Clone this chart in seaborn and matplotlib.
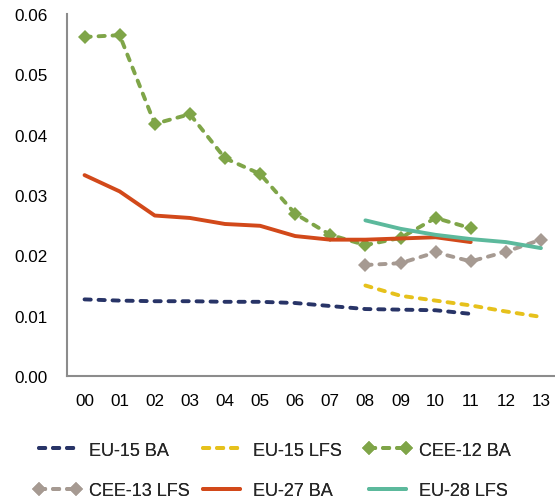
import numpy as np
import pandas as pd
import matplotlib
matplotlib.use("Agg")
import matplotlib.pyplot as plt
import seaborn as sns

# ---------- data ----------
years = ["00", "01", "02", "03", "04", "05", "06", "07", "08", "09", "10", "11", "12", "13"]
nan = np.nan

eu15_ba = [0.0127, 0.0125, 0.0124, 0.0124, 0.0123, 0.0123, 0.0121, 0.0116, 0.0111, 0.0110, 0.0109, 0.0103, nan, nan]
eu15_lfs = [nan, nan, nan, nan, nan, nan, nan, nan, 0.0150, 0.0133, 0.0125, 0.0117, 0.0107, 0.0098]
cee12_ba = [0.0562, 0.0565, 0.0418, 0.0434, 0.0361, 0.0335, 0.0269, 0.0234, 0.0217, 0.0229, 0.0262, 0.0245, nan, nan]
cee13_lfs = [nan, nan, nan, nan, nan, nan, nan, nan, 0.0184, 0.0187, 0.0205, 0.0190, 0.0206, 0.0226]
eu27_ba = [0.0333, 0.0306, 0.0266, 0.0262, 0.0252, 0.0249, 0.0232, 0.0226, 0.0226, 0.0228, 0.0230, 0.0222, nan, nan]
eu28_lfs = [nan, nan, nan, nan, nan, nan, nan, nan, 0.0258, 0.0244, 0.0234, 0.0227, 0.0222, 0.0212]

series = {
    "EU-15 BA": eu15_ba,
    "EU-15 LFS": eu15_lfs,
    "CEE-12 BA": cee12_ba,
    "CEE-13 LFS": cee13_lfs,
    "EU-27 BA": eu27_ba,
    "EU-28 LFS": eu28_lfs,
}

# style per series: colour, dashed?, marker
styles = {
    "EU-15 BA": ("#283467", True, None),
    "EU-15 LFS": ("#e6c11c", True, None),
    "CEE-12 BA": ("#7fa548", True, "D"),
    "CEE-13 LFS": ("#a69a92", True, "D"),
    "EU-27 BA": ("#d2491a", False, None),
    "EU-28 LFS": ("#5cb99c", False, None),
}

# ---------- plot ----------
sns.set_style("white")
plt.rcParams['font.family'] = ['Liberation Sans', 'DejaVu Sans']

fig = plt.figure(figsize=(5.55, 5.02), dpi=100)
ax = fig.add_axes([0.1207, 0.249, 0.8793, 0.721])

x = np.arange(len(years))
handles = {}
for name, vals in series.items():
    color, dashed, marker = styles[name]
    df = pd.DataFrame({"x": x, "y": vals}).dropna()
    kw = dict(color=color, lw=2.8, solid_capstyle="round", dash_capstyle="round")
    if dashed:
        kw["linestyle"] = (0, (1.6, 2.0))
    if marker:
        kw.update(marker=marker, markersize=7.5, markeredgewidth=0)
    sns.lineplot(data=df, x="x", y="y", ax=ax, **kw)
    handles[name] = ax.lines[-1]

ax.set_xlim(-0.5, 13.4)
ax.set_ylim(0, 0.06)
ax.set_yticks(np.arange(0, 0.061, 0.01))
ax.set_yticklabels([f"{v:.2f}" for v in np.arange(0, 0.061, 0.01)])
ax.set_xticks(x)
ax.set_xticklabels(years)
ax.set_xlabel("")
ax.set_ylabel("")
ax.tick_params(axis="both", labelsize=12.3, length=0, colors="#000000")
ax.tick_params(axis="x", pad=12)
ax.tick_params(axis="y", pad=14)

for side in ["top", "right"]:
    ax.spines[side].set_visible(False)
for side in ["left", "bottom"]:
    ax.spines[side].set_color("#8c8c8c")
    ax.spines[side].set_linewidth(1.5)

# legend: one small legend per column, as in the original layout
columns = [["EU-15 BA", "CEE-13 LFS"], ["EU-15 LFS", "EU-27 BA"], ["CEE-12 BA", "EU-28 LFS"]]
col_x = [34, 198, 364]
for names, px in zip(columns, col_x):
    leg = fig.legend([handles[n] for n in names], names, loc="center left",
                     bbox_to_anchor=(px / 555, 1 - 471.5 / 502), frameon=False,
                     fontsize=13, handlelength=2.6, handletextpad=0.42,
                     labelspacing=1.3, numpoints=2, borderpad=0, borderaxespad=0)
    fig.add_artist(leg)

fig.savefig("out.png", dpi=100)
plt.close()
